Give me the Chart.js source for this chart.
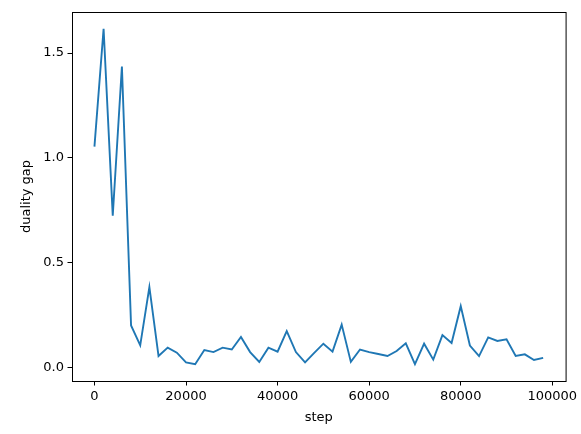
<!DOCTYPE html>
<html>
<head>
<meta charset="utf-8">
<script src="https://cdn.jsdelivr.net/npm/chart.js@4"></script>
<style>
  html, body { margin: 0; padding: 0; background: #fff; }
</style>
</head>
<body>
<canvas id="gapChart" width="581" height="434"></canvas>
<script>
  // training steps
  const steps = [
    0, 2000, 4000, 6000, 8000, 10000, 12000, 14000, 16000, 18000,
    20000, 22000, 24000, 26000, 28000, 30000, 32000, 34000, 36000, 38000,
    40000, 42000, 44000, 46000, 48000, 50000, 52000, 54000, 56000, 58000,
    60000, 62000, 64000, 66000, 68000, 70000, 72000, 74000, 76000, 78000,
    80000, 82000, 84000, 86000, 88000, 90000, 92000, 94000, 96000, 98000
  ];

  // duality gap per step
  const gaps = [
    1.054, 1.616, 0.725, 1.436, 0.201, 0.106, 0.384, 0.055, 0.095, 0.071,
    0.025, 0.016, 0.084, 0.074, 0.095, 0.086, 0.146, 0.074, 0.027, 0.095,
    0.076, 0.174, 0.074, 0.025, 0.070, 0.114, 0.076, 0.205, 0.027, 0.086,
    0.074, 0.065, 0.055, 0.079, 0.116, 0.016, 0.114, 0.038, 0.155, 0.117,
    0.293, 0.105, 0.055, 0.144, 0.127, 0.135, 0.055, 0.063, 0.036, 0.046
  ];

  // tick labels
  const xTicks = [0, 20000, 40000, 60000, 80000, 100000];
  const yTicks = [0, 0.5, 1.0, 1.5];

  const tickFont = { family: 'DejaVu Sans', size: 13 };

  // frame on top and right like matplotlib
  const frame = {
    id: 'frame',
    afterDraw(chart) {
      const { ctx, chartArea: a } = chart;
      ctx.save();
      ctx.strokeStyle = '#000';
      ctx.lineWidth = 1;
      ctx.strokeRect(a.left + 0.5, a.top + 0.5, a.right - a.left, a.bottom - a.top);
      ctx.restore();
    }
  };

  const ctx = document.getElementById('gapChart').getContext('2d');
  new Chart(ctx, {
    type: 'line',
    data: {
      datasets: [{
        data: steps.map((s, i) => ({ x: s, y: gaps[i] })),
        borderColor: '#1f77b4',
        borderWidth: 1.9,
        pointRadius: 0,
        tension: 0,
        fill: false
      }]
    },
    options: {
      responsive: false,
      animation: false,
      devicePixelRatio: 1,
      layout: { padding: { left: 0, right: 14, top: 12, bottom: 0 } },
      plugins: {
        legend: { display: false },
        tooltip: { enabled: false }
      },
      scales: {
        x: {
          type: 'linear',
          min: -4900,
          max: 102900,
          afterBuildTicks: s => { s.ticks = xTicks.map(v => ({ value: v })); },
          afterFit: s => { s.height = 53; },
          grid: { drawOnChartArea: false, drawTicks: true, tickLength: 4.5, color: '#000' },
          border: { color: '#000', width: 1 },
          ticks: { color: '#000', font: tickFont, padding: 3.5, maxRotation: 0,
                   callback: v => String(v) },
          title: { display: true, text: 'step', color: '#000', font: tickFont,
                   padding: { top: 0, bottom: 8.6 } }
        },
        y: {
          min: -0.064,
          max: 1.696,
          afterBuildTicks: s => { s.ticks = yTicks.map(v => ({ value: v })); },
          afterFit: s => { s.width = 72; },
          grid: { drawOnChartArea: false, drawTicks: true, tickLength: 4.5, color: '#000' },
          border: { color: '#000', width: 1 },
          ticks: { color: '#000', font: tickFont, padding: 3.5,
                   callback: v => Number(v).toFixed(1) },
          title: { display: true, text: 'duality gap', color: '#000', font: tickFont,
                   padding: { top: 19.2, bottom: 0 } }
        }
      }
    },
    plugins: [frame]
  });
</script>
</body>
</html>
